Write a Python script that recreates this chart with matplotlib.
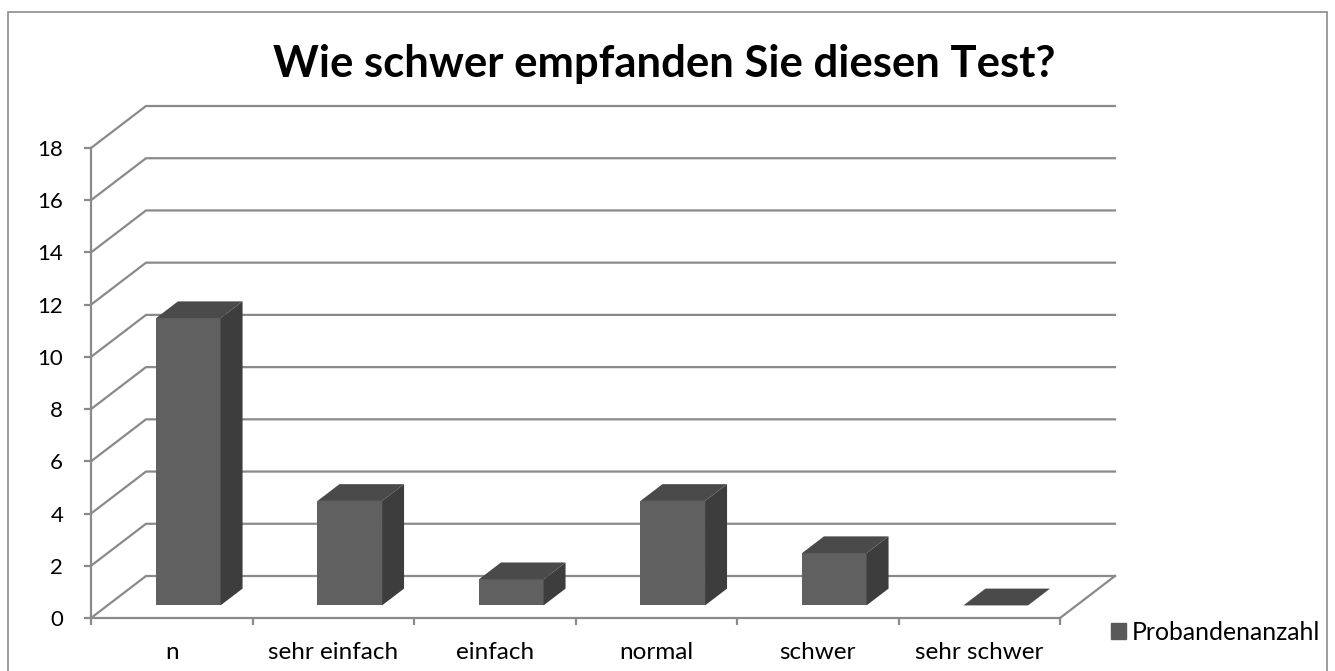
import matplotlib
matplotlib.use("Agg")
import matplotlib.pyplot as plt
from matplotlib.patches import Polygon, Patch, Rectangle

plt.rcParams['font.family'] = ['Lato', 'DejaVu Sans']

# Data
categories = ["n", "sehr einfach", "einfach", "normal", "schwer", "sehr schwer"]
values = [11, 4, 1, 4, 2, 0]
series_name = "Probandenanzahl"
title = "Wie schwer empfanden Sie diesen Test?"
yticks = list(range(0, 19, 2))

# 3D look: depth offset expressed in data units
DX, DY = 0.3406, 1.6085
D0, D1 = 0.3, 0.7          # bar depth range (fraction of floor depth)
BW = 0.4                   # bar width (category units)
grid_col = "#8a8a8a"
front_col, side_col, top_col = "#606060", "#3d3d3d", "#4a4a4a"

fig = plt.figure(figsize=(13.35, 6.71), dpi=100)
ax = fig.add_axes([91 / 1335, 53 / 671, 969 / 1335, 470 / 671])
ax.set_xlim(0, len(categories))
ax.set_ylim(0, 18)
ax.patch.set_alpha(0)

n = len(categories)

# back wall gridlines with side-wall diagonals
for v in yticks:
    ax.plot([0, DX, n + DX], [v, v + DY, v + DY], color=grid_col, lw=1.6,
            clip_on=False, solid_joinstyle="miter", zorder=1)
# floor right edge
ax.plot([n, n + DX], [0, DY], color=grid_col, lw=1.6, clip_on=False, zorder=1)


def sh(x, y, d):
    return (x + d * DX, y + d * DY)


# bars
for i, v in enumerate(values):
    xl = i + 0.5 - BW / 2
    xr = i + 0.5 + BW / 2
    front = [sh(xl, 0, D0), sh(xr, 0, D0), sh(xr, v, D0), sh(xl, v, D0)]
    side = [sh(xr, 0, D0), sh(xr, 0, D1), sh(xr, v, D1), sh(xr, v, D0)]
    top = [sh(xl, v, D0), sh(xr, v, D0), sh(xr, v, D1), sh(xl, v, D1)]
    if v > 0:
        ax.add_patch(Polygon(front, closed=True, fc=front_col, ec="none",
                             clip_on=False, zorder=3))
        ax.add_patch(Polygon(side, closed=True, fc=side_col, ec="none",
                             clip_on=False, zorder=3))
    ax.add_patch(Polygon(top, closed=True, fc=top_col, ec="none",
                         clip_on=False, zorder=3))

# axes styling
for s in ["top", "right"]:
    ax.spines[s].set_visible(False)
for s in ["left", "bottom"]:
    ax.spines[s].set_color(grid_col)
    ax.spines[s].set_linewidth(1.6)

ax.set_yticks(yticks)
ax.set_yticklabels([str(t) for t in yticks], fontsize=16)
ax.set_xticks(range(n + 1))
ax.set_xticklabels([])
ax.set_xticks([i + 0.5 for i in range(n)], minor=True)
ax.set_xticklabels(categories, minor=True, fontsize=17.5)
ax.tick_params(axis="y", direction="out", length=5, width=1.6, color=grid_col, pad=15)
ax.tick_params(axis="x", which="major", direction="out", length=5, width=1.6, color=grid_col)
ax.tick_params(axis="x", which="minor", length=0, pad=17.5)

fig.text(664 / 1335, 1 - 77 / 671, title, ha="center", va="baseline",
         fontsize=31.4, fontweight="bold")

fig.legend(handles=[Patch(color="#595959", label=series_name)],
           loc="center left", bbox_to_anchor=(1111 / 1335, 1 - 632 / 671),
           frameon=False, fontsize=17.8, handlelength=0.6, handleheight=0.6,
           handletextpad=0.25, borderpad=0, borderaxespad=0)

# chart border
fig.patches.append(Rectangle((8 / 1335, -0.05), 1319 / 1335, 1.05 - 12 / 671,
                             transform=fig.transFigure, fill=False,
                             ec="#8c8c8c", lw=1.2))

fig.savefig("out.png", dpi=100)
